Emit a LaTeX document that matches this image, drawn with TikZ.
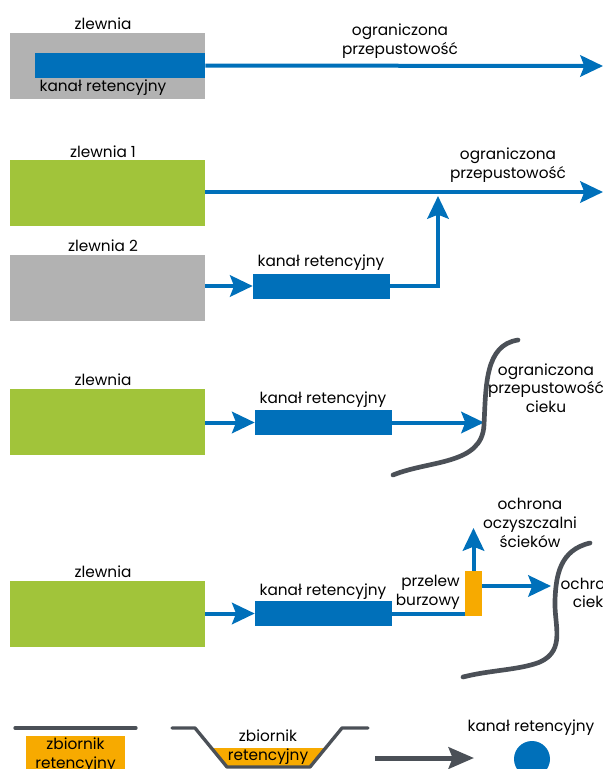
\documentclass[tikz,border=0pt]{standalone}
\usepackage{fontspec}
\setmainfont{Poppins}
\usetikzlibrary{arrows.meta}
\definecolor{kanal}{RGB}{0,112,186}
\definecolor{zielen}{RGB}{161,196,58}
\definecolor{szary}{RGB}{178,178,178}
\definecolor{pomarancz}{RGB}{247,170,0}
\definecolor{ciek}{RGB}{75,80,87}
\tikzset{
  zlew/.style={rectangle, inner sep=0pt, minimum width=146.25pt, minimum height=49.5pt},
  ret/.style={rectangle, fill=kanal, inner sep=0pt, minimum width=102.75pt, minimum height=18.75pt},
  opis/.style={inner sep=0pt, align=center, font=\fontsize{11.5}{14}\selectfont},
  plyw/.style={draw=kanal, line width=3pt},
  grot/.style={plyw, -{Stealth[length=17pt,width=16pt,inset=3pt]}},
  rzeka/.style={draw=ciek, line width=3.5pt, line cap=round},
}

\begin{document}
\begin{tikzpicture}[x=0.75pt, y=-0.75pt]
\useasboundingbox (0,0) rectangle (603,769);
% zlewnia z kanalem w srodku
\node[zlew, fill=szary] (z1) at (107.5,66) {};
\node[rectangle, fill=kanal, inner sep=0pt, minimum width=127.5pt, minimum height=18.75pt] (k1) at (120,65.5) {};
\node[opis] (tz1) at (103,24) {zlewnia};
\node[opis] (tk1) at (103,88) {kanał retencyjny};
\coordinate (w1) at (603,66);
\draw[grot] (k1.east) -- (w1);
\node[opis] (tw1) at (400,41) {ograniczona\\przepustowość};

% dwie zlewnie
\node[zlew, fill=zielen] (z2a) at (107.5,193) {};
\node[opis] (tz2a) at (103,152) {zlewnia 1};
\coordinate (w2) at (603,192);
\draw[grot] (z2a.east |- w2) -- (w2);
\node[opis] (tw2) at (508,165) {ograniczona\\przepustowość};
\node[zlew, fill=szary] (z2b) at (107.5,288) {};
\node[opis] (tz2b) at (103,246) {zlewnia 2};
\node[ret] (k2) at (321.5,286) {};
\node[opis] (tk2) at (321,263) {kanał retencyjny};
\draw[grot] (z2b.east |- k2) -- (k2.west);
\coordinate (j2) at (438,196);
\draw[grot] (k2.east) -| (j2);

% odbiornik - ciek
\node[zlew, fill=zielen] (z3) at (107.5,422) {};
\node[opis] (tz3) at (103,380) {zlewnia};
\node[ret] (k3) at (323.5,422.5) {};
\node[opis] (tk3) at (323,400) {kanał retencyjny};
\draw[grot] (z3.east |- k3) -- (k3.west);
\coordinate (c3) at (484,422.5);
\draw[grot] (k3.east) -- (c3);
\draw[rzeka] (393,475) .. controls (430,460) and (482,465) .. (484,425)
  .. controls (486,385) and (485,345) .. (518,340);
\node[opis] (tc3) at (546,388) {ograniczona\\przepustowość\\cieku};

% przelew burzowy
\node[zlew, fill=zielen] (z4) at (107.5,614) {};
\node[opis] (tz4) at (103,572) {zlewnia};
\node[ret] (k4) at (323.5,613.5) {};
\node[opis] (tk4) at (323,592) {kanał retencyjny};
\draw[grot] (z4.east |- k4) -- (k4.west);
\node[rectangle, fill=pomarancz, inner sep=0pt, minimum width=12.75pt, minimum height=33.75pt] (pb) at (473.5,593.5) {};
\draw[plyw] (k4.east) -- (k4.east -| pb.west);
\node[opis, anchor=east, align=right] (tpb) at (460,592) {przelew\\burzowy};
\coordinate (o4) at (473.5,528);
\draw[grot] (pb.north) -- (o4);
\coordinate (c4) at (551,586);
\draw[grot] (pb.east |- c4) -- (c4);
\node[opis] (to4) at (530,523) {ochrona\\oczyszczalni\\ścieków};
\draw[rzeka] (590,543) .. controls (560,550) and (556,575) .. (555,600)
  .. controls (554,625) and (566,650) .. (540,662)
  .. controls (520,670) and (490,670) .. (463,677);
\node[opis] (tc4) at (593,593) {ochrona\\cieku};

% legenda
\draw[ciek, line width=2.5pt, line cap=round] (15,728) -- (136,728);
\fill[pomarancz] (26,736) rectangle (125,790);
\node[opis] (tl1) at (75.5,755) {zbiornik\\retencyjny};
\fill[pomarancz] (211.4,748) -- (325.6,748) -- (310,767) -- (227,767) -- cycle;
\draw[ciek, line width=2.5pt, line cap=round, line join=round] (172,728) -- (195,728) -- (227,767) -- (310,767) -- (342,728) -- (368,728);
\node[opis] (tl2) at (268,747) {zbiornik\\retencyjny};
\coordinate (l3a) at (375,758);
\coordinate (l3b) at (474,758);
\draw[ciek, line width=3.75pt, -{Stealth[length=19pt,width=16pt,inset=3pt]}] (l3a) -- (l3b);
\node[opis] (tl4) at (531,728) {kanał retencyjny};
\fill[kanal] (532,759) circle (13.5pt);
\end{tikzpicture}
\end{document}
